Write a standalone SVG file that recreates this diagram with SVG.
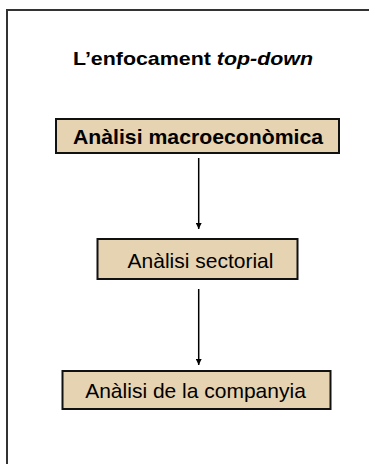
<svg xmlns="http://www.w3.org/2000/svg" width="369" height="464" viewBox="0 0 369 464">
<style>
.box{fill:#E6D3B1;stroke:#111;stroke-width:2}
.t{font-family:"Liberation Sans",Arial,sans-serif;font-size:21px;fill:#000;text-anchor:middle}
.conn{stroke:#000;stroke-width:1.5;fill:none}
</style>
<defs>
<marker id="ah" viewBox="0 0 10 10" refX="10" refY="5" markerWidth="6" markerHeight="6" markerUnits="userSpaceOnUse" orient="auto">
<path d="M0,0 L10,5 L0,10 z" fill="#000"/>
</marker>
</defs>
<rect width="369" height="464" fill="#fff"/>
<path d="M7,470 V10 H375" fill="none" stroke="#333" stroke-width="2"/>
<text class="t" x="193" y="65" font-size="19" font-weight="bold" textLength="240" lengthAdjust="spacingAndGlyphs" style="font-size:19px">L’enfocament <tspan font-style="italic">top-down</tspan></text>
<g id="connectors">
<line class="conn" x1="198.7" y1="158" x2="198.7" y2="229" marker-end="url(#ah)"/>
<line class="conn" x1="198.7" y1="289" x2="198.7" y2="365" marker-end="url(#ah)"/>
</g>
<g id="node-macro">
<rect class="box" x="56" y="119" width="283" height="34"/>
<text class="t" x="198" y="143.5" font-weight="bold" textLength="250" lengthAdjust="spacingAndGlyphs">Anàlisi macroeconòmica</text>
</g>
<g id="node-sectorial">
<rect class="box" x="97.5" y="239" width="200" height="40"/>
<text class="t" x="200.5" y="268.3">Anàlisi sectorial</text>
</g>
<g id="node-companyia">
<rect class="box" x="62.5" y="371" width="268" height="38"/>
<text class="t" x="195.5" y="398.3">Anàlisi de la companyia</text>
</g>
</svg>
